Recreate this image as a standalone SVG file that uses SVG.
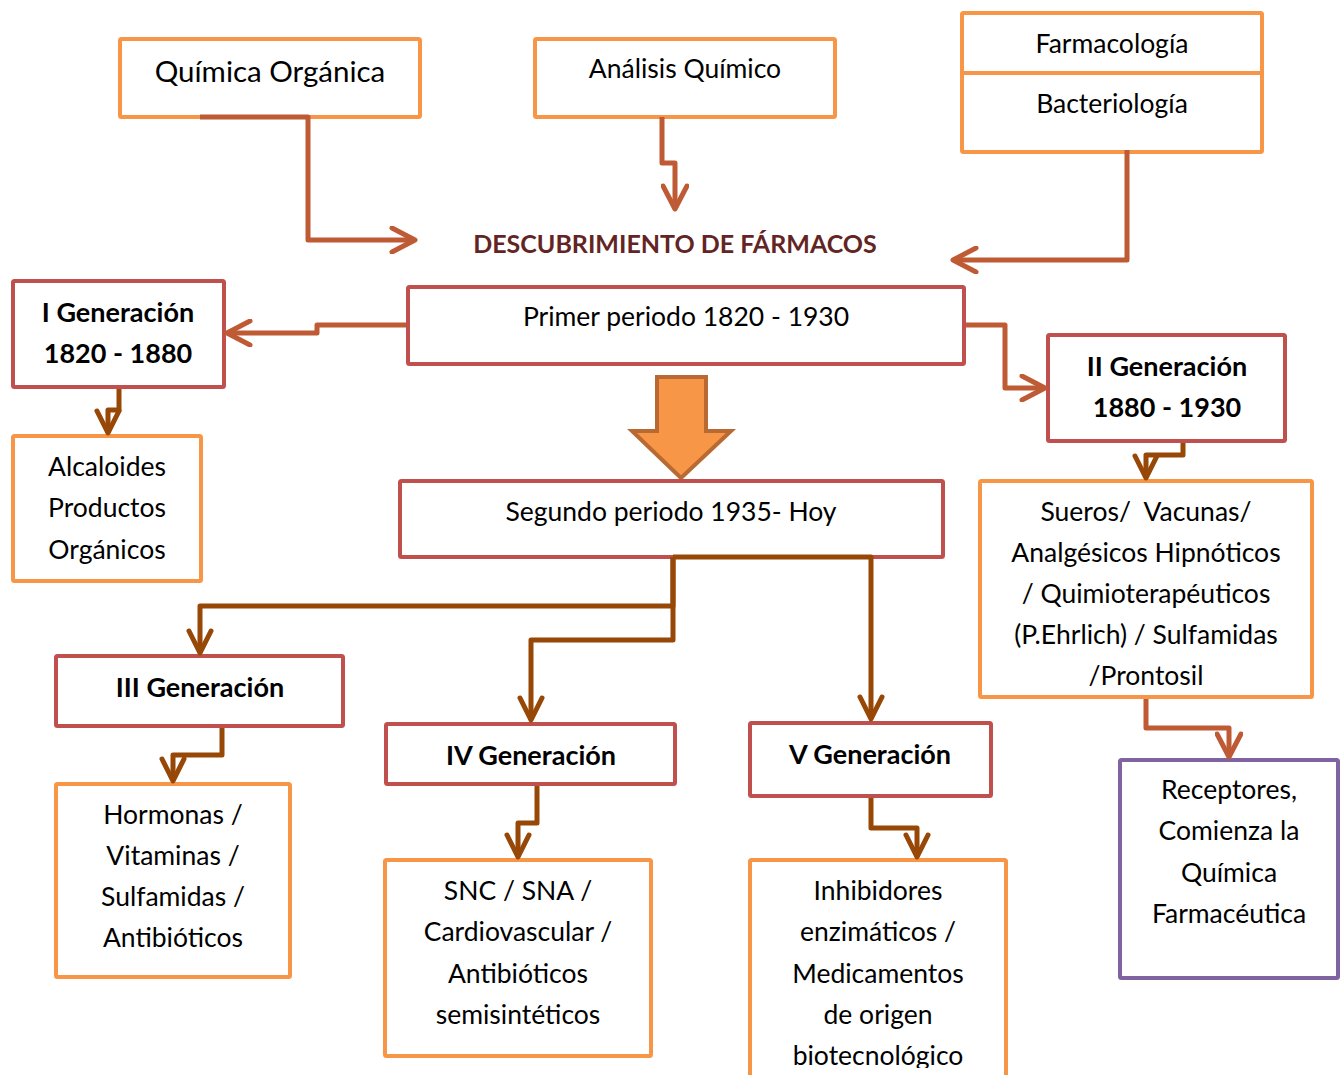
<svg xmlns="http://www.w3.org/2000/svg" width="1344" height="1075" viewBox="0 0 1344 1075">
  <style>
    .box { fill: #ffffff; stroke-width: 4; }
    .org { stroke: #F79646; }
    .red { stroke: #C0504D; }
    .pur { stroke: #8064A2; }
    .t { font-family: Lato, "Open Sans", sans-serif; font-size: 26.5px; fill: #000; text-anchor: middle; dominant-baseline: central; white-space: pre; }
    .b { font-weight: bold; font-size: 27px; }
    .title { font-family: Lato, "Open Sans", sans-serif; font-size: 25px; font-weight: bold; fill: #632523; text-anchor: middle; dominant-baseline: central; }
    .c1 { fill: none; stroke: #BE5B35; stroke-width: 5; stroke-linejoin: round; }
    .c2 { fill: none; stroke: #974706; stroke-width: 5; stroke-linejoin: round; }
  </style>
  <defs>
    <marker id="ah1" viewBox="-26 -14 30 28" markerWidth="30" markerHeight="28" refX="0" refY="0" orient="auto" markerUnits="userSpaceOnUse">
      <path d="M -23 -12 L 0 0 L -23 12" fill="none" stroke="#BE5B35" stroke-width="5" stroke-linecap="round" stroke-linejoin="round"/>
    </marker>
    <marker id="ah2" viewBox="-26 -14 30 28" markerWidth="30" markerHeight="28" refX="0" refY="0" orient="auto" markerUnits="userSpaceOnUse">
      <path d="M -22 -11 L 0 0 L -22 11" fill="none" stroke="#974706" stroke-width="5" stroke-linecap="round" stroke-linejoin="round"/>
    </marker>
    <clipPath id="clipSueros"><rect x="980" y="481" width="332" height="207"/></clipPath>
    <clipPath id="clipInhib"><rect x="750" y="860" width="256" height="208"/></clipPath>
  </defs>

  <!-- block arrow between the two periods -->
  <g id="periodArrow">
    <path d="M 657 377 H 706 V 431 H 731 L 681 478 L 632 431 H 657 Z" fill="#F79646" stroke="#B96A33" stroke-width="4"/>
  </g>

  <g id="quimicaOrganica">
    <rect class="box org" x="120" y="39" width="300" height="78" rx="1.5"/>
    <text class="t" x="270" y="70" style="font-size:29.5px">Química Orgánica</text>
  </g>

  <g id="analisisQuimico">
    <rect class="box org" x="535" y="39" width="300" height="78" rx="1.5"/>
    <text class="t" x="685" y="68">Análisis Químico</text>
  </g>

  <g id="farmacoBacterio">
    <rect class="box org" x="962" y="13" width="300" height="139" rx="1.5"/>
    <line x1="962" y1="73" x2="1262" y2="73" stroke="#F79646" stroke-width="4"/>
    <text class="t" x="1112" y="43">Farmacología</text>
    <text class="t" x="1112" y="103">Bacteriología</text>
  </g>

  <g id="descubrimiento">
    <text class="title" x="675" y="243">DESCUBRIMIENTO DE FÁRMACOS</text>
  </g>

  <g id="primeraGen">
    <rect class="box red" x="13" y="281" width="211" height="106" rx="1.5"/>
    <text class="t b" x="118" y="311">I Generación</text>
    <text class="t b" x="118" y="352">1820 - 1880</text>
  </g>

  <g id="primerPeriodo">
    <rect class="box red" x="408" y="287" width="556" height="77" rx="1.5"/>
    <text class="t" x="686" y="316">Primer periodo 1820 - 1930</text>
  </g>

  <g id="segundaGen">
    <rect class="box red" x="1048" y="335" width="237" height="106" rx="1.5"/>
    <text class="t b" x="1167" y="365">II Generación</text>
    <text class="t b" x="1167" y="406">1880 - 1930</text>
  </g>

  <g id="alcaloides">
    <rect class="box org" x="13" y="436" width="188" height="145" rx="1.5"/>
    <text class="t" x="107" y="466">Alcaloides</text>
    <text class="t" x="107" y="507">Productos</text>
    <text class="t" x="107" y="549">Orgánicos</text>
  </g>

  <g id="segundoPeriodo">
    <rect class="box red" x="400" y="481" width="543" height="76" rx="1.5"/>
    <text class="t" x="671" y="511">Segundo periodo 1935- Hoy</text>
  </g>

  <g id="sueros">
    <rect class="box org" x="980" y="481" width="332" height="216" rx="1.5"/>
    <g clip-path="url(#clipSueros)">
      <text class="t" x="1146" y="511">Sueros/  Vacunas/</text>
      <text class="t" x="1146" y="552">Analgésicos Hipnóticos</text>
      <text class="t" x="1146" y="593">/ Quimioterapéuticos</text>
      <text class="t" x="1146" y="634">(P.Ehrlich) / Sulfamidas</text>
      <text class="t" x="1146" y="675">/Prontosil</text>
    </g>
  </g>

  <g id="terceraGen">
    <rect class="box red" x="56" y="656" width="287" height="70" rx="1.5"/>
    <text class="t b" x="200" y="686">III Generación</text>
  </g>

  <g id="cuartaGen">
    <rect class="box red" x="386" y="724" width="289" height="60" rx="1.5"/>
    <text class="t b" x="531" y="754">IV Generación</text>
  </g>

  <g id="quintaGen">
    <rect class="box red" x="750" y="723" width="241" height="73" rx="1.5"/>
    <text class="t b" x="870" y="753">V Generación</text>
  </g>

  <g id="receptores">
    <rect class="box pur" x="1120" y="760" width="218" height="218" rx="1.5"/>
    <text class="t" x="1229" y="789">Receptores,</text>
    <text class="t" x="1229" y="830">Comienza la</text>
    <text class="t" x="1229" y="872">Química</text>
    <text class="t" x="1229" y="913">Farmacéutica</text>
  </g>

  <g id="hormonas">
    <rect class="box org" x="56" y="784" width="234" height="193" rx="1.5"/>
    <text class="t" x="173" y="814">Hormonas /</text>
    <text class="t" x="173" y="855">Vitaminas /</text>
    <text class="t" x="173" y="896">Sulfamidas /</text>
    <text class="t" x="173" y="937">Antibióticos</text>
  </g>

  <g id="snc">
    <rect class="box org" x="385" y="860" width="266" height="196" rx="1.5"/>
    <text class="t" x="518" y="890">SNC / SNA /</text>
    <text class="t" x="518" y="931">Cardiovascular /</text>
    <text class="t" x="518" y="973">Antibióticos</text>
    <text class="t" x="518" y="1014">semisintéticos</text>
  </g>

  <g id="inhibidores">
    <rect class="box org" x="750" y="860" width="256" height="240" rx="1.5"/>
    <g clip-path="url(#clipInhib)">
      <text class="t" x="878" y="890">Inhibidores</text>
      <text class="t" x="878" y="931">enzimáticos /</text>
      <text class="t" x="878" y="973">Medicamentos</text>
      <text class="t" x="878" y="1014">de origen</text>
      <text class="t" x="878" y="1055">biotecnológico</text>
    </g>
  </g>

  <!-- connectors, drawn over the box borders they start from -->
  <g id="connectors">
    <path class="c1" d="M 200 117 H 308 V 240 H 415" marker-end="url(#ah1)"/>
    <path class="c1" d="M 662 117 V 163 H 675 V 209" marker-end="url(#ah1)"/>
    <path class="c1" d="M 1127 150 V 260 H 953" marker-end="url(#ah1)"/>
    <path class="c1" d="M 406 325 H 317 V 333 H 227" marker-end="url(#ah1)"/>
    <path class="c1" d="M 966 325 H 1005 V 388 H 1045" marker-end="url(#ah1)"/>
    <path class="c2" d="M 119 389 V 410 H 108 V 433" marker-end="url(#ah2)"/>
    <path class="c2" d="M 1183 443 V 455 H 1146 V 478" marker-end="url(#ah2)"/>
    <path class="c1" d="M 1146 699 V 728 H 1229 V 757" marker-end="url(#ah1)"/>
    <path class="c2" d="M 673 557 V 606 H 200 V 653" marker-end="url(#ah2)"/>
    <path class="c2" d="M 673 557 V 640 H 531 V 720" marker-end="url(#ah2)"/>
    <path class="c2" d="M 673 557 H 871 V 719" marker-end="url(#ah2)"/>
    <path class="c2" d="M 222 728 V 755 H 173 V 781" marker-end="url(#ah2)"/>
    <path class="c2" d="M 537 786 V 823 H 518 V 857" marker-end="url(#ah2)"/>
    <path class="c2" d="M 871 798 V 828 H 917 V 857" marker-end="url(#ah2)"/>
  </g>
</svg>
